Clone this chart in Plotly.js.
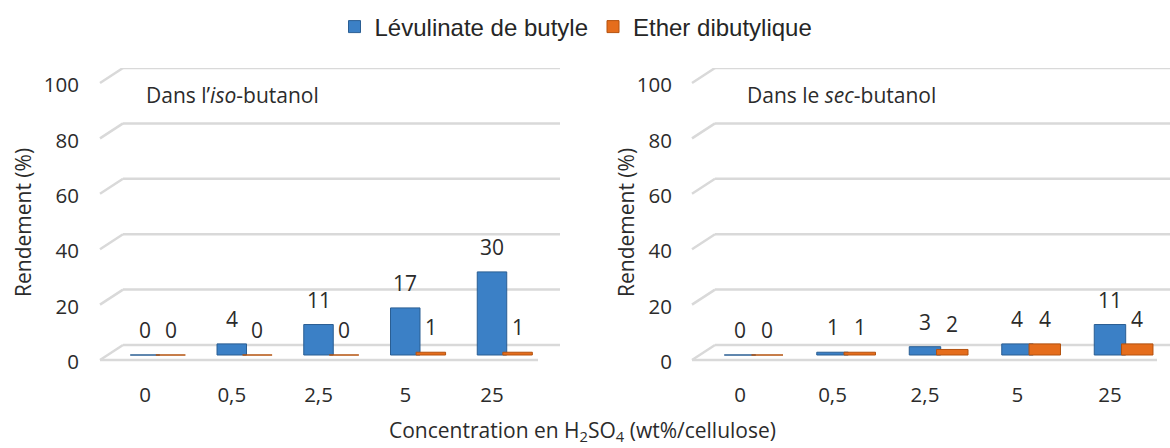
<!DOCTYPE html>
<html>
<head>
<meta charset="utf-8">
<script src="https://cdn.plot.ly/plotly-3.0.1.min.js"></script>
<style>html,body{margin:0;padding:0;background:#fff;}#chart{width:1170px;height:448px;}</style>
</head>
<body>
<div id="chart"></div>
<script>
// ---- data ----
const categories = ['0', '0,5', '2,5', '5', '25'];
const seriesNames = ['Lévulinate de butyle', 'Ether dibutylique'];
const isoLevulinate = [0, 4, 11, 17, 30];
const isoEther = [0, 0, 0, 1, 1];
const secLevulinate = [0, 1, 3, 4, 11];
const secEther = [0, 1, 2, 4, 4];
const yTicks = [0, 20, 40, 60, 80, 100];
const panelLabels = ['Dans l’<i>iso</i>-butanol', 'Dans le <i>sec</i>-butanol'];
const yTitle = 'Rendement (%)';
const xTitle = 'Concentration en H<sub>2</sub>SO<sub>4</sub> (wt%/cellulose)';

// ---- style / geometry ----
const W = 1170, H = 448;
const mT = 68, mB = 86;
const plotH = H - mT - mB;               // 294 px
const pxPerUnit = 2.77;
const yBottom = -(plotH - 100 * pxPerUnit) / pxPerUnit; // main axis bottom value
const barDrop = 10 / pxPerUnit;          // bars sit 10 px in front of the back floor
const slantUnits = 15 / pxPerUnit;       // depth of the 3D floor
const blue = '#3B80C6', blueLine = '#2A5E93';
const orange = '#E56D1C', orangeLine = '#B4520F';
const tickFont = {family: 'Open Sans', size: 20.5, color: '#2b2b2b'};
const labelFont = {family: 'Open Sans', size: 21, color: '#2b2b2b'};
const textFont = {family: 'Open Sans', size: 21, color: '#2b2b2b'};
const gridColor = '#d9d9d9';
const idx = categories.map((c, i) => i);
const barW = 0.34, offB = -0.17, offO = 0.125;
const panels = [
  {x0: 100, x1: 560, floorEnd: 538, range: [-0.519, 4.784]},
  {x0: 692, x1: 1170, floorEnd: 1157, range: [-0.519, 4.649]}
];
const py = p => (H - mB - p) / plotH;   // pixel row -> paper y

function bars(vals, name, color, line, xa, ya, off, show) {
  return {type: 'bar', x: idx, y: vals, name: name, xaxis: xa, yaxis: ya,
    width: barW, offset: off, showlegend: show, hoverinfo: 'skip',
    marker: {color: color, line: {color: line, width: 1}}};
}
const data = [
  bars(isoLevulinate, seriesNames[0], blue, blueLine, 'x', 'y3', offB, true),
  bars(isoEther, seriesNames[1], orange, orangeLine, 'x', 'y3', offO, true),
  bars(secLevulinate, seriesNames[0], blue, blueLine, 'x2', 'y4', offB, false),
  bars(secEther, seriesNames[1], orange, orangeLine, 'x2', 'y4', offO, false)
];

const yaxisBase = {range: [yBottom, 100], tickvals: yTicks, showgrid: false,
  zeroline: false, showline: false, ticks: '', tickfont: tickFont,
  ticklabelshift: 17, fixedrange: true};
const barYBase = {range: [yBottom + barDrop, 100 + barDrop], showticklabels: false, showgrid: false,
  zeroline: false, showline: false, ticks: '', fixedrange: true};
const xaxisBase = {tickvals: idx, ticktext: categories, showgrid: false, zeroline: false,
  showline: false, ticks: '', tickfont: tickFont, ticklabelstandoff: 18, fixedrange: true};

// gridlines with the 3D slanted start, built from the y tick values
const shapes = [];
panels.forEach((p, k) => {
  const xr = k === 0 ? 'x domain' : 'x2 domain', yr = k === 0 ? 'y' : 'y2';
  const dx = 23 / (p.x1 - p.x0);
  yTicks.forEach(t => {
    shapes.push({type: 'line', layer: 'below', xref: xr, yref: yr, x0: 0, x1: dx,
      y0: t - slantUnits, y1: t, line: {color: gridColor, width: 2.5}});
    shapes.push({type: 'line', layer: 'below', xref: xr, yref: yr, x0: dx, x1: 1,
      y0: t, y1: t, line: {color: gridColor, width: 2.5}});
  });
  shapes.push({type: 'line', layer: 'below', xref: xr, yref: yr, x0: 0,
    x1: (p.floorEnd - p.x0) / (p.x1 - p.x0), y0: yTicks[0] - slantUnits, y1: yTicks[0] - slantUnits,
    line: {color: gridColor, width: 2.5}});
});

const annotations = [];
function valueLabels(vals, xa, ya, centre) {
  vals.forEach((v, i) => annotations.push({x: i + centre, y: v, xref: xa, yref: ya,
    text: String(v), showarrow: false, yanchor: 'bottom', yshift: 9, font: labelFont}));
}
valueLabels(isoLevulinate, 'x', 'y3', offB + barW / 2);
valueLabels(isoEther, 'x', 'y3', offO + barW / 2);
valueLabels(secLevulinate, 'x2', 'y4', offB + barW / 2);
valueLabels(secEther, 'x2', 'y4', offO + barW / 2);

annotations.push(
  {x: 144 / W, y: py(95), xref: 'paper', yref: 'paper', text: panelLabels[0], showarrow: false,
    xanchor: 'left', yanchor: 'middle', font: textFont},
  {x: 745 / W, y: py(95), xref: 'paper', yref: 'paper', text: panelLabels[1], showarrow: false,
    xanchor: 'left', yanchor: 'middle', font: textFont},
  {x: 23 / W, y: py(223), xref: 'paper', yref: 'paper', text: yTitle, textangle: -90, showarrow: false,
    xanchor: 'center', yanchor: 'middle', font: textFont},
  {x: 626 / W, y: py(223), xref: 'paper', yref: 'paper', text: yTitle, textangle: -90, showarrow: false,
    xanchor: 'center', yanchor: 'middle', font: textFont},
  {x: 582 / W, y: py(431), xref: 'paper', yref: 'paper', text: xTitle, showarrow: false,
    xanchor: 'center', yanchor: 'middle', font: textFont}
);

const layout = {
  width: W, height: H,
  margin: {l: 0, r: 0, t: mT, b: mB},
  paper_bgcolor: '#fff', plot_bgcolor: '#fff',
  showlegend: true,
  legend: {orientation: 'h', x: 576 / W, xanchor: 'center', y: py(27), yanchor: 'middle',
    font: {family: 'Liberation Sans', size: 24, color: '#262626'}, itemclick: false, itemdoubleclick: false,
    traceorder: 'normal'},
  xaxis: Object.assign({}, xaxisBase, {domain: [panels[0].x0 / W, panels[0].x1 / W], range: panels[0].range, anchor: 'y'}),
  xaxis2: Object.assign({}, xaxisBase, {domain: [panels[1].x0 / W, panels[1].x1 / W], range: panels[1].range, anchor: 'y2'}),
  yaxis: Object.assign({}, yaxisBase, {anchor: 'x', ticklabelstandoff: 20}),
  yaxis2: Object.assign({}, yaxisBase, {anchor: 'x2', ticklabelstandoff: 19}),
  yaxis3: Object.assign({}, barYBase, {overlaying: 'y', anchor: 'x'}),
  yaxis4: Object.assign({}, barYBase, {overlaying: 'y2', anchor: 'x2'}),
  shapes: shapes,
  annotations: annotations
};

Plotly.newPlot('chart', data, layout, {displayModeBar: false, staticPlot: true});
</script>
</body>
</html>
